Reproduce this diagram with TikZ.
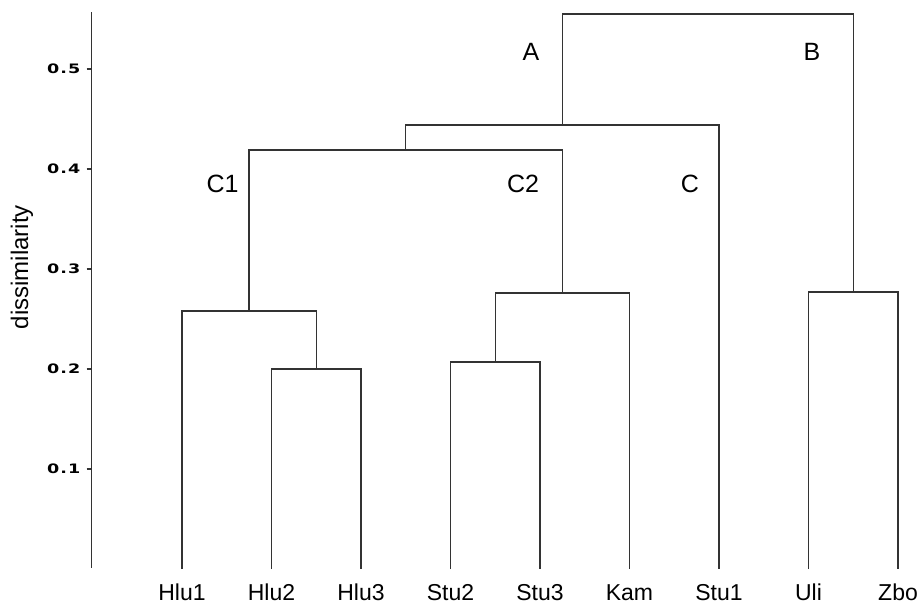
\documentclass[tikz,border=0pt]{standalone}
\usepackage{fontspec}
\setmainfont{Liberation Sans}
\newfontfamily\tickfont{DejaVu Sans Bold}[FakeStretch=1.35,LetterSpace=8]
\usetikzlibrary{calc}

\begin{document}
\begin{tikzpicture}[
  x=1pt, y=1000pt,
  link/.style={draw=black!80, line width=1.3pt},
  leaf/.style={anchor=base, inner sep=0pt, font=\fontsize{23}{27}\selectfont},
  group/.style={inner sep=0pt, font=\fontsize{25}{30}\selectfont},
  tick/.style={anchor=east, inner sep=0pt, font=\tickfont\fontsize{13}{15}\selectfont}
]
\useasboundingbox (0,-0.035) rectangle (917,0.569);

% Draw axis and ticks
\coordinate (base) at (0,0);
\coordinate (ax0) at (91.7,0.001);
\coordinate (ax1) at (91.7,0.557);
\draw[link] (ax0) -- (ax1);
\foreach \v in {1,...,5} {
  \coordinate (tk\v) at (86.7,\v/10);
  \draw[link] (tk\v) -- (tk\v -| ax0);
  \node[tick] (t\v) at (80.5,\v/10) {0.\v};
}
\node[rotate=90, font=\fontsize{24}{28}\selectfont] (ylab) at (22,0.302) {dissimilarity};

% Draw leaves
\foreach \name [count=\i from 0] in {Hlu1,Hlu2,Hlu3,Stu2,Stu3,Kam,Stu1,Uli,Zbo} {
  \coordinate (\name) at (182+89.5*\i,0);
  \node[leaf] (lab\i) at (182+89.5*\i,-0.031) {\name};
}

% Merge points
\coordinate (hlu23) at ($(Hlu2)!0.5!(Hlu3) + (0,0.200)$);
\coordinate (hlu) at ($(Hlu1)!0.5!(hlu23 |- base) + (0,0.258)$);
\coordinate (stu23) at ($(Stu2)!0.5!(Stu3) + (0,0.207)$);
\coordinate (stuk) at ($(stu23 |- base)!0.5!(Kam) + (0,0.276)$);
\coordinate (c12) at ($(hlu |- base)!0.5!(stuk |- base) + (0,0.419)$);
\coordinate (cc) at ($(c12 |- base)!0.5!(Stu1) + (0,0.444)$);
\coordinate (uz) at ($(Uli)!0.5!(Zbo) + (0,0.277)$);
\coordinate (top) at ($(cc |- base)!0.5!(uz |- base) + (0,0.555)$);

% Draw links
\draw[link] (Hlu2) |- (hlu23) -| (Hlu3);
\draw[link] (Hlu1) |- (hlu) -| (hlu23);
\draw[link] (Stu2) |- (stu23) -| (Stu3);
\draw[link] (stu23) |- (stuk) -| (Kam);
\draw[link] (hlu) |- (c12) -| (stuk);
\draw[link] (c12) |- (cc) -| (Stu1);
\draw[link] (Uli) |- (uz) -| (Zbo);
\draw[link] (cc) |- (top) -| (uz);

% Group labels
\node[group] (gA) at (531,0.517) {A};
\node[group] (gB) at (812,0.517) {B};
\node[group] (gC1) at (222.5,0.385) {C1};
\node[group] (gC2) at (523,0.385) {C2};
\node[group] (gC) at (690,0.385) {C};

\end{tikzpicture}
\end{document}
